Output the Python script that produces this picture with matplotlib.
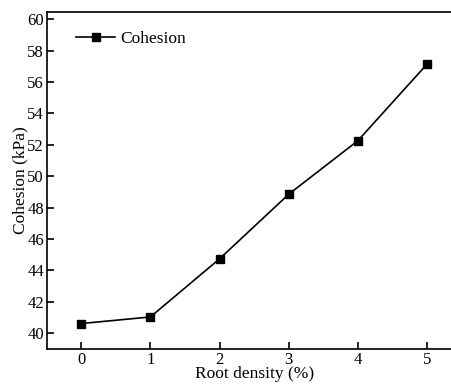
import matplotlib.pyplot as plt

plt.rcParams['font.family'] = ['Liberation Serif', 'DejaVu Serif']

root_density = [0, 1, 2, 3, 4, 5]
cohesion = [40.62, 41.04, 44.74, 48.85, 52.26, 57.13]
yticks = [40, 42, 44, 46, 48, 50, 52, 54, 56, 58, 60]

fig = plt.figure(figsize=(4.51, 3.85), dpi=100)
ax = fig.add_axes([0.1035, 0.0935, 0.92, 0.8753])

ax.plot(root_density, cohesion, color='black', lw=1.2, marker='s',
        markersize=5.5, label='Cohesion')

ax.set_xlim(-0.5, 5.5)
ax.set_ylim(39, 60.45)
ax.set_xticks(root_density)
ax.set_yticks(yticks)
ax.tick_params(direction='in', length=5, width=1.2, labelsize=12, pad=2)
for s in ax.spines.values():
    s.set_linewidth(1.2)

ax.set_xlabel('Root density (%)', fontsize=12.5, labelpad=-1)
ax.set_ylabel('Cohesion (kPa)', fontsize=12.5, labelpad=-1)

ax.legend(loc='upper left', frameon=False, fontsize=12.5, handlelength=2.2,
          handletextpad=0.3, bbox_to_anchor=(0.055, 0.965), borderaxespad=0)

fig.savefig('out.png', dpi=100)
